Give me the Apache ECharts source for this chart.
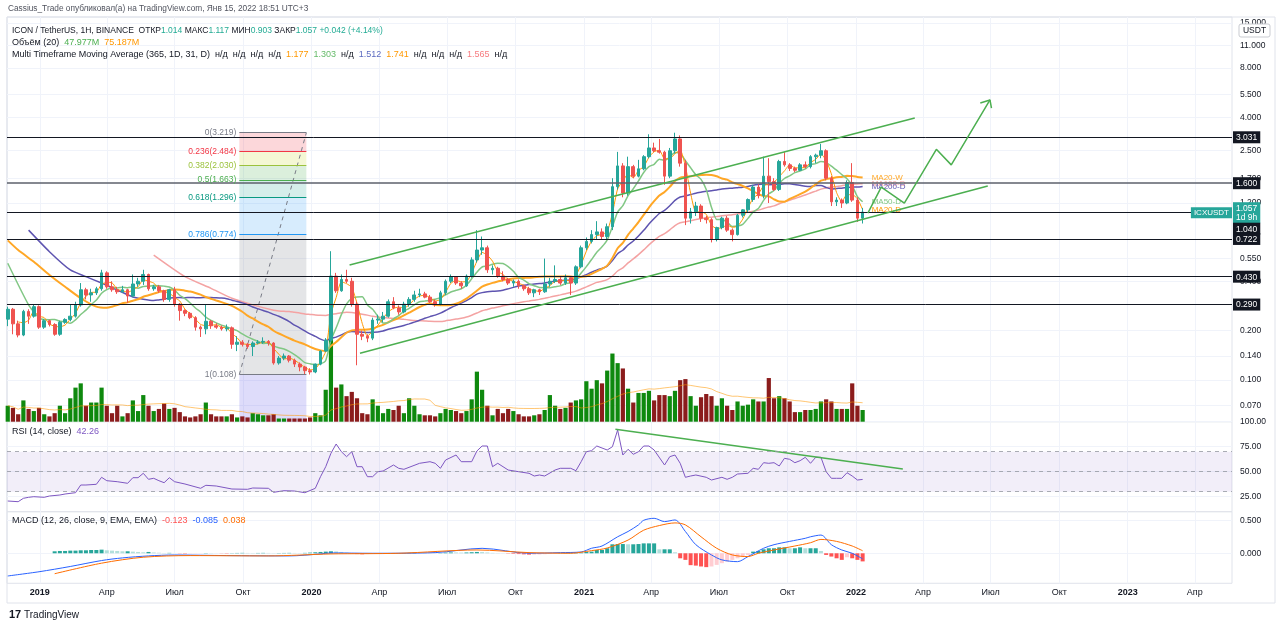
<!DOCTYPE html>
<html><head><meta charset="utf-8">
<style>html,body{margin:0;padding:0;background:#fff}#c{width:1280px;height:628px}</style>
<script src="https://cdn.jsdelivr.net/npm/echarts@6.0.0/dist/echarts.min.js"></script>
</head><body><div id="c"></div><script>
// ---------- DATA (weekly candles, first week Monday 2018-11-19) ----------
const firstWeek = '2018-11-19';
const open = [.235,.27,.22,.188,.262,.245,.28,.21,.23,.218,
.19,.225,.234,.245,.287,.355,.33,.34,.36,.45,
.37,.355,.345,.355,.325,.385,.40,.44,.36,.37,
.35,.31,.355,.29,.265,.255,.24,.21,.205,.228,
.214,.21,.205,.208,.165,.17,.165,.16,.168,.17,
.172,.168,.127,.136,.14,.132,.125,.12,.114,.112,
.125,.15,.175,.43,.35,.41,.40,.29,.19,.185,
.18,.232,.235,.245,.30,.275,.26,.29,.31,.33,
.335,.32,.30,.29,.34,.40,.425,.39,.375,.43,
.54,.62,.64,.47,.48,.43,.41,.39,.40,.375,
.36,.34,.355,.345,.385,.40,.41,.39,.42,.39,
.49,.64,.70,.77,.80,.75,.86,1.51,2.02,1.38,
2.00,1.75,1.94,2.30,2.60,2.50,2.45,1.75,2.50,2.95,
2.10,.97,1.06,1.15,.97,.95,.72,.85,.97,.82,
.77,1.01,1.09,1.26,1.50,1.33,1.75,1.62,1.45,2.15,
2.05,1.95,1.90,2.05,2.00,2.30,2.35,2.50,1.70,1.22,
1.25,1.20,1.60,1.25,.97];
const high = [.28,.275,.23,.268,.27,.29,.285,.235,.233,.222,
.23,.238,.29,.30,.39,.365,.36,.37,.47,.46,
.40,.37,.375,.36,.44,.42,.47,.445,.38,.38,
.355,.36,.37,.295,.27,.26,.245,.215,.29,.232,
.222,.215,.218,.212,.185,.175,.168,.172,.175,.182,
.175,.17,.14,.145,.142,.135,.128,.122,.118,.126,
.152,.18,.61,.45,.44,.47,.42,.30,.20,.19,
.24,.25,.26,.31,.32,.285,.30,.32,.35,.36,
.345,.33,.31,.35,.41,.44,.43,.40,.44,.56,
.82,.75,.66,.50,.49,.46,.42,.41,.41,.38,
.37,.36,.36,.55,.42,.50,.43,.44,.43,.50,
.66,.74,.82,.93,.84,.90,1.70,2.46,2.10,2.30,
2.05,2.20,2.35,3.15,2.80,2.95,2.50,2.60,3.22,3.10,
2.20,1.12,1.22,1.18,1.00,.97,.86,.99,1.00,.84,
1.03,1.10,1.28,1.55,1.56,2.30,2.25,1.70,2.20,2.45,
2.10,2.00,2.10,2.15,2.35,2.40,2.75,2.55,1.75,1.30,
1.28,1.65,2.10,1.30,1.12];
const low = [.213,.19,.182,.185,.22,.24,.205,.205,.212,.186,
.186,.22,.228,.24,.28,.31,.30,.33,.35,.36,
.345,.335,.34,.295,.32,.37,.38,.35,.35,.34,
.30,.30,.28,.23,.245,.235,.20,.183,.19,.205,
.205,.20,.198,.155,.15,.16,.155,.14,.165,.166,
.162,.124,.124,.132,.128,.12,.113,.108,.108,.11,
.123,.148,.17,.34,.345,.39,.28,.123,.175,.17,
.175,.22,.225,.24,.27,.25,.255,.28,.30,.32,
.315,.295,.28,.285,.33,.39,.38,.36,.37,.42,
.52,.58,.45,.44,.42,.40,.38,.37,.36,.35,
.33,.32,.33,.34,.37,.39,.38,.38,.33,.38,
.48,.62,.68,.72,.72,.72,.82,1.45,1.30,1.33,
1.70,1.72,1.90,2.25,2.45,2.40,1.55,1.70,2.40,2.00,
.88,.90,1.00,.92,.90,.69,.70,.83,.80,.70,
.76,.98,1.05,1.22,1.28,1.28,1.20,1.42,1.42,2.00,
1.88,1.85,1.88,1.95,1.95,2.10,2.25,1.65,1.15,1.15,
1.12,1.18,1.22,.92,.90];
const close = [.27,.22,.188,.262,.245,.28,.21,.23,.218,.19,
.225,.234,.245,.287,.355,.33,.34,.36,.45,.37,
.355,.345,.355,.325,.385,.40,.44,.36,.37,.35,
.31,.355,.29,.265,.255,.24,.21,.205,.228,.214,
.21,.205,.208,.165,.17,.165,.16,.168,.17,.172,
.168,.127,.136,.14,.132,.125,.12,.114,.112,.125,
.15,.175,.43,.35,.41,.40,.29,.19,.185,.18,
.232,.235,.245,.30,.275,.26,.29,.31,.33,.335,
.32,.30,.29,.34,.40,.425,.39,.375,.43,.54,
.62,.64,.47,.48,.43,.41,.39,.40,.375,.36,
.34,.355,.345,.385,.40,.41,.39,.42,.39,.49,
.64,.70,.77,.80,.75,.86,1.51,2.02,1.38,2.00,
1.75,1.94,2.30,2.60,2.50,2.45,1.75,2.50,2.95,2.10,
.97,1.06,1.15,.97,.95,.72,.85,.97,.82,.77,
1.01,1.09,1.26,1.50,1.33,1.75,1.62,1.45,2.15,2.05,
1.95,1.90,2.05,2.00,2.30,2.35,2.50,1.70,1.22,1.25,
1.20,1.60,1.25,.97,1.057];
const volume = [15,13,7,20,12,10,13,7,5,8,
15,8,22,32,36,15,18,18,32,15,
8,15,5,8,20,10,25,15,10,12,
17,12,13,9,5,4,5,7,18,7,
5,5,5,7,4,5,4,8,7,6,
6,7,3,3,3,3,3,3,4,8,
6,30,100,32,35,24,28,22,8,7,
21,15,8,12,11,15,8,22,15,7,
6,6,5,8,12,11,10,8,10,21,
47,30,15,6,12,8,12,10,7,5,
5,6,7,11,25,15,12,13,18,20,
21,38,31,39,36,48,64,55,50,31,
18,27,27,29,20,25,25,24,29,39,
40,24,15,23,26,24,15,22,15,11,
19,15,16,21,19,19,41,22,24,22,
19,9,9,11,11,12,19,21,19,12,
12,12,36,15,11];
const macdHist = [null,null,null,null,null,null,null,null,null,.03,
.035,.035,.04,.04,.045,.045,.05,.05,.055,.045,
.04,.035,.03,.03,.025,.02,.015,.02,.012,.008,
.004,.006,.002,-.003,-.005,-.004,-.003,-.002,.004,.003,
.001,-.002,-.004,.003,.005,.006,.005,.004,.005,.006,
.005,.003,.004,.005,.006,.005,.004,.006,.01,.015,
.02,.025,.03,.028,.02,.01,-.005,-.012,-.015,-.012,
-.008,-.006,-.004,.003,.004,.003,.004,.006,.008,.007,
.005,.003,.002,.004,.01,.013,.012,.01,.012,.016,
.02,.018,.012,.006,.003,.001,-.004,-.008,-.012,-.016,
-.02,-.02,-.018,-.014,-.01,-.004,.003,.006,.008,.01,
.01,.02,.025,.05,.05,.076,.136,.14,.14,.136,
.136,.14,.15,.15,.15,.06,.06,.06,.015,-.076,
-.1,-.18,-.187,-.2,-.21,-.2,-.176,-.15,-.126,-.1,
-.076,-.05,-.025,.025,.035,.06,.076,.076,.09,.09,
.076,.076,.09,.076,.076,.076,.035,-.025,-.05,-.076,
-.1,-.06,-.076,-.1,-.123];
const rsiWeek = [0,2,3,4,5,7,8,10,11,13,14,15,17,18,19,21,23,24,25,26,27,28,29,30,31,32,34,37,38,40,43,46,47,50,51,53,55,57,59,60,61,62,63,64,65,66,67,68,69,70,71,72,74,75,76,79,81,82,83,84,86,87,89,90,91,92,93,94,96,98,100,101,102,103,105,106,108,109,110,111,112,113,115,116,117,118,119,120,121,122,123,124,126,127,128,129,130,131,132,134,135,137,138,139,140,142,143,144,145,146,147,148,149,150,151,152,153,154,155,156,157,158,159,160,161,162,163,164];
const rsiValue = [20.7,20,23.4,24.4,25,24.4,25.7,26.7,27.7,29,36.7,36.7,37.4,44.4,41,40,38.4,44,44,48.4,42.4,43.4,41,39,44,40,37.7,33.4,36.4,35.7,32.7,32.4,33.7,33.4,29.4,31,30.7,29,33.4,45,55,68.4,77.7,70,65,70,55,55,45,45,50,50.7,56.7,53.4,52.4,58.4,60,58.4,53.4,61.7,66.7,60,60,70.7,75.7,75.7,55,58.4,51.7,50,48.4,45.7,46.7,45.7,51.7,53.4,53.4,51,60,70,71,75.7,71.7,75,91.7,66.7,72.4,67.4,70,75.7,75.7,71.7,56.7,65,66.7,58.4,44.4,45.7,46.7,44.4,41.7,44.4,42.4,44.4,47.7,48.4,53.4,52.4,59,58.4,59,55.7,63.4,62.4,59,61,64.4,58.4,64.4,64.4,50,43.4,43.4,43.4,49,45.7,41.7,42.26];
const macdWeek = [0,6,12,18,22,27,32,42,54,60,62,70,82,91,100,106,110,112,114,117,119,121,122,124,126,128,130,132,135,137,140,142,145,147,150,153,154,156,158,160,162,164];
const macdValue = [-0.344,-0.28,-0.2,-0.11,-0.07,-0.04,-0.026,-0.035,-0.04,-0.01,0.005,0,0.01,0.075,0,0.01,0.02,0.076,0.11,0.25,0.33,0.43,0.5,0.53,0.48,0.505,0.33,0.13,-0.025,-0.1,-0.127,-0.05,0.076,0.13,0.18,0.227,0.25,0.276,0.13,0.05,0,-0.085];
const signalWeek = [9,18,26,35,50,62,75,90,100,108,112,115,119,122,125,128,130,133,136,139,142,144,147,151,154,156,159,162,164];
const signalValue = [-0.31,-0.15,-0.06,-0.035,-0.04,-0.01,0,0.05,0.01,0,0.04,0.08,0.2,0.35,0.42,0.46,0.43,0.25,0.076,-0.025,-0.05,0,0.05,0.11,0.16,0.21,0.18,0.11,0.038];
const ma20wEarlyWeek = [0,2,5,8,11,14,17];
const ma20wEarlyValue = [0.71,0.62,0.526,0.437,0.37,0.315,0.28];
const ma200dEarlyWeek = [4,8,12,15,18,21,24];
const ma200dEarlyValue = [0.82,0.606,0.469,0.427,0.39,0.354,0.321];
const ma365dEarlyWeek = [28,34,39,43,47];
const ma365dEarlyValue = [0.578,0.427,0.362,0.315,0.287];
const ma50dEarlyWeek = [0,4];
const ma50dEarlyValue = [0.515,0.287];
const levels = [3.031, 1.600, 1.040, 0.722, 0.430, 0.290];
const lastPrice = 1.057;
const priceTicks = [15, 11, 8, 5.5, 4, 2.5, 1.7, 1.2, 0.55, 0.4, 0.2, 0.14, 0.1, 0.07];
const rsiTicks = [25, 50, 75, 100];
const macdTicks = [0, 0.5];
const timeTicks = ['2019-01-01','2019-04-01','2019-07-01','2019-10-01','2020-01-01','2020-04-01','2020-07-01','2020-10-01','2021-01-01','2021-04-01','2021-07-01','2021-10-01','2022-01-01','2022-04-01','2022-07-01','2022-10-01','2023-01-01','2023-04-01'];
const timeTickLabels = ['2019','Апр','Июл','Окт','2020','Апр','Июл','Окт','2021','Апр','Июл','Окт','2022','Апр','Июл','Окт','2023','Апр'];
const fibRatios = ['0','0.236','0.382','0.5','0.618','0.786','1'];
const fibPrices = [3.219, 2.484, 2.030, 1.663, 1.296, 0.774, 0.108];
const fibSpan = ['2019-09-26','2019-12-25'];
const channelUpper = [['2020-02-21',0.502],['2022-03-21',3.96]];
const channelLower = [['2020-03-06',0.1455],['2022-06-27',1.523]];
const projection = [['2022-01-17',1.04],['2022-02-04',1.5],['2022-03-07',1.2],['2022-04-19',2.55],['2022-05-09',2.05],['2022-06-30',5.10]];
const arrowHead = [['2022-06-17',4.89],['2022-06-30',5.10],['2022-07-02',4.54]];
const rsiTrend = [['2021-02-12',92.4],['2022-03-05',52.7]];

// ---------- BUILD ----------
const DAY = 86400000;
const T0 = Date.parse(firstWeek);
const weekT = i => T0 + i * 7 * DAY;
const weeks = close.map((_, i) => weekT(i));
const L = v => Math.log10(v);
const X_MIN = Date.parse('2018-11-18'), X_MAX = Date.parse('2023-05-21');
const Y_MIN = -1.2543, Y_MAX = 1.2134;
const FONT = 'Liberation Sans';
const UP = '#26a69a', DOWN = '#ef5350';
const CLEAR = 'rgba(0,0,0,0)';

function sma(src, n) {
  return src.map((_, i) => {
    if (i < n - 1) return null;
    let sum = 0;
    for (let k = i - n + 1; k <= i; k++) sum += src[k];
    return sum / n;
  });
}
function smaPartial(src, n) {
  return src.map((_, i) => {
    const s = Math.max(0, i - n + 1); let sum = 0;
    for (let k = s; k <= i; k++) sum += src[k];
    return sum / (i - s + 1);
  });
}
const tickVals = timeTicks.map(s => Date.parse(s));
function xAxis(gi, showLabel) {
  return {
    type: 'value', gridIndex: gi, min: X_MIN, max: X_MAX, scale: true,
    axisLine: { show: false }, axisTick: { show: false, customValues: tickVals },
    splitLine: { show: true, lineStyle: { color: '#f0f3fa', width: 1 } },
    axisLabel: {
      show: showLabel, customValues: tickVals, margin: 5, color: '#131722', fontSize: 9, fontFamily: FONT,
      formatter: v => { let k = -1; tickVals.forEach((t, j) => { if (Math.abs(t - v) < DAY) k = j; }); const s = k >= 0 ? timeTickLabels[k] : ''; return /^\d{4}$/.test(s) ? '{y|' + s + '}' : s; },
      rich: { y: { fontWeight: 'bold', fontSize: 9, color: '#131722', fontFamily: FONT } }
    }
  };
}
const gridBase = { left: 7, right: 48, show: true, borderColor: '#e0e3eb', borderWidth: 1, backgroundColor: 'transparent' };

const maDefs = [
  { name: 'MA100-D', n: 52, color: '#f4a3a3', w: 1.5, ew: ma365dEarlyWeek, ev: ma365dEarlyValue },
  { name: 'MA200-D', n: 29, color: '#5e54b0', w: 1.5, ew: ma200dEarlyWeek, ev: ma200dEarlyValue },
  { name: 'MA20-W', n: 20, color: '#ffa726', w: 2, ew: ma20wEarlyWeek, ev: ma20wEarlyValue },
  { name: 'MA50-D', n: 7, color: '#81c784', w: 1.5, ew: ma50dEarlyWeek, ev: ma50dEarlyValue },
  { name: 'MA20-D', n: 3, color: '#ff9800', w: 1, ew: [], ev: [] }
];
const maSeries = maDefs.map(d => {
  const m = sma(close, d.n);
  const pts = d.ew.map((w, k) => [weekT(w), L(d.ev[k])]);
  weeks.forEach((t, i) => { if (m[i] != null) pts.push([t, L(m[i])]); });
  return {
    type: 'line', name: d.name, xAxisIndex: 0, yAxisIndex: 0, showSymbol: false, z: 3, silent: true,
    smooth: 0.2, data: pts,
    lineStyle: { color: d.color, width: d.w }, itemStyle: { color: d.color },
    endLabel: { show: true, formatter: d.name, color: d.color, fontSize: 8, distance: 9, fontFamily: FONT }
  };
});
const volMa = smaPartial(volume, 20);

const fibT0 = Date.parse(fibSpan[0]), fibT1 = Date.parse(fibSpan[1]);
const fibFills = ['rgba(242,54,69,0.2)', 'rgba(205,220,57,0.22)', 'rgba(76,175,80,0.2)', 'rgba(8,153,129,0.17)', 'rgba(33,150,243,0.18)', 'rgba(120,123,134,0.2)', 'rgba(92,80,230,0.2)'];
const fibColors = ['#787b86', '#f23645', '#9bc23c', '#4caf50', '#089981', '#2196f3', '#787b86'];

const boxRich = { b: { backgroundColor: '#131722', color: '#fff', padding: [2, 3, 1, 3], fontSize: 8.5, fontFamily: FONT }, g: { fontSize: 1, lineHeight: 10, height: 10 } };
const levelItems = [];
levelItems.push({
  yAxis: L(lastPrice), lineStyle: { color: CLEAR, width: 1 },
  label: { show: true, position: 'end', distance: 1, verticalAlign: 'middle',
    formatter: '{p|' + lastPrice.toFixed(3) + '}\n{p|1d 9h}',
    backgroundColor: UP, padding: [2, 3, 1, 3], fontFamily: FONT,
    rich: { p: { color: '#fff', fontSize: 8.5, lineHeight: 9, fontFamily: FONT } } }
});
levels.forEach((v, k) => levelItems.push({
  yAxis: L(v),
  lineStyle: { color: k === 1 ? '#5d606b' : '#131722', width: k === 1 ? 1.5 : 1, type: 'solid' },
  label: {
    show: true, position: 'end', distance: 1,
    verticalAlign: k === 2 ? 'top' : 'middle',
    formatter: (k === 2 ? '{g| }\n' : '') + '{b|' + v.toFixed(3) + '}', rich: boxRich
  }
}));
levelItems.push({
  yAxis: L(lastPrice), lineStyle: { color: CLEAR, width: 1 },
  label: { show: true, position: 'end', align: 'right', distance: 0, formatter: '{t|ICXUSDT}',
    backgroundColor: UP, padding: [2, 3, 1, 3], fontFamily: FONT,
    rich: { t: { color: '#fff', fontSize: 8, fontFamily: FONT } } }
});

function histColor(i) {
  const v = macdHist[i], p = i > 0 && macdHist[i - 1] != null ? macdHist[i - 1] : 0;
  if (v >= 0) return v >= p ? '#26a69a' : '#b2dfdb';
  return v < p ? '#ff5252' : '#ffcdd2';
}
const toPts = arr => arr.map(([d, p]) => [Date.parse(d), L(p)]);

const series = [
  { type: 'bar', xAxisIndex: 0, yAxisIndex: 1, barWidth: 4.2, z: 1, silent: true,
    data: weeks.map((t, i) => ({ value: [t, volume[i]], itemStyle: { color: close[i] >= open[i] ? '#0e890e' : '#8b1c1c' } })) },
  { type: 'line', xAxisIndex: 0, yAxisIndex: 1, showSymbol: false, z: 1, silent: true,
    data: weeks.map((t, i) => [t, volMa[i]]), lineStyle: { color: 'rgba(255,152,0,0.55)', width: 1 } },
  { type: 'line', xAxisIndex: 0, yAxisIndex: 0, showSymbol: false, z: 2, silent: true,
    data: [[fibT0, L(fibPrices[fibPrices.length - 1])], [fibT1, L(fibPrices[0])]],
    lineStyle: { color: '#787b86', width: 1, type: [4, 4] },
    markArea: { silent: true, data: fibPrices.map((p, k) => [
      { coord: [fibT0, L(p)], itemStyle: { color: fibFills[k] } },
      { coord: [fibT1, k < fibPrices.length - 1 ? L(fibPrices[k + 1]) : Y_MIN] }]) },
    markLine: { silent: true, symbol: ['none', 'none'], animation: false,
      label: { position: 'start', distance: 3, fontSize: 8.5, fontFamily: FONT },
      data: fibPrices.map((p, k) => [
        { coord: [fibT0, L(p)], lineStyle: { color: fibColors[k], width: 1, type: 'solid' },
          label: { formatter: fibRatios[k] + '(' + p.toFixed(3) + ')', color: fibColors[k] } },
        { coord: [fibT1, L(p)] }]) } },
  ...maSeries,
  { type: 'candlestick', xAxisIndex: 0, yAxisIndex: 0, z: 4, barWidth: 3.2, silent: true,
    data: weeks.map((t, i) => [t, L(open[i]), L(close[i]), L(low[i]), L(high[i])]),
    itemStyle: { color: UP, color0: DOWN, borderColor: UP, borderColor0: DOWN, borderWidth: 1 },
    markLine: { silent: true, symbol: ['none', 'none'], animation: false, data: levelItems } },
  { type: 'line', xAxisIndex: 0, yAxisIndex: 0, showSymbol: false, z: 5, silent: true, data: toPts(channelUpper), lineStyle: { color: '#4caf50', width: 1.5 } },
  { type: 'line', xAxisIndex: 0, yAxisIndex: 0, showSymbol: false, z: 5, silent: true, data: toPts(channelLower), lineStyle: { color: '#4caf50', width: 1.5 } },
  { type: 'line', xAxisIndex: 0, yAxisIndex: 0, showSymbol: false, z: 5, silent: true, data: toPts(projection), lineStyle: { color: '#4caf50', width: 1.5 } },
  { type: 'line', xAxisIndex: 0, yAxisIndex: 0, showSymbol: false, z: 5, silent: true, data: toPts(arrowHead), lineStyle: { color: '#4caf50', width: 1.5 } },
  // RSI
  { type: 'line', xAxisIndex: 1, yAxisIndex: 2, showSymbol: false, z: 3, silent: true,
    data: rsiWeek.map((w, k) => [weekT(w), rsiValue[k]]), lineStyle: { color: '#7e57c2', width: 1 },
    markArea: { silent: true, itemStyle: { color: 'rgba(126,87,194,0.1)' }, data: [[{ yAxis: 30 }, { yAxis: 70 }]] },
    markLine: { silent: true, symbol: ['none', 'none'], animation: false, label: { show: false },
      lineStyle: { color: '#9598a1', width: 1, type: [4, 4], opacity: 0.8 }, data: [{ yAxis: 70 }, { yAxis: 50 }, { yAxis: 30 }] } },
  { type: 'line', xAxisIndex: 1, yAxisIndex: 2, showSymbol: false, z: 4, silent: true,
    data: rsiTrend.map(([d, v]) => [Date.parse(d), v]), lineStyle: { color: '#4caf50', width: 1.5 } },
  // MACD
  { type: 'bar', xAxisIndex: 2, yAxisIndex: 3, barWidth: 4, z: 2, silent: true,
    data: weeks.map((t, i) => ({ value: [t, macdHist[i]], itemStyle: { color: macdHist[i] == null ? 'transparent' : histColor(i) } })) },
  { type: 'line', xAxisIndex: 2, yAxisIndex: 3, showSymbol: false, smooth: 0.3, z: 3, silent: true,
    data: macdWeek.map((w, k) => [weekT(w), macdValue[k]]), lineStyle: { color: '#2962ff', width: 1 } },
  { type: 'line', xAxisIndex: 2, yAxisIndex: 3, showSymbol: false, smooth: 0.3, z: 3, silent: true,
    data: signalWeek.map((w, k) => [weekT(w), signalValue[k]]), lineStyle: { color: '#ff6d00', width: 1 } }
];

const axisLabelBase = { color: '#131722', fontSize: 8.5, fontFamily: FONT, margin: 8 };
const txt = (c, s) => ({ fill: c, fontSize: s || 9, fontFamily: FONT });
const option = {
  animation: false,
  backgroundColor: '#fff',
  textStyle: { fontFamily: FONT },
  grid: [
    Object.assign({ top: 17, height: 404.7 }, gridBase),
    Object.assign({ top: 421.7, height: 90 }, gridBase),
    Object.assign({ top: 511.7, height: 71.6 }, gridBase)
  ],
  xAxis: [xAxis(0, false), xAxis(1, false), xAxis(2, true)],
  yAxis: [
    { type: 'value', gridIndex: 0, position: 'right', min: Y_MIN, max: Y_MAX,
      axisLine: { show: false }, axisTick: { show: false, customValues: priceTicks.map(L) },
      splitLine: { show: true, lineStyle: { color: '#f0f3fa' } },
      axisLabel: Object.assign({ customValues: priceTicks.map(L), formatter: v => Math.pow(10, v).toFixed(3) }, axisLabelBase) },
    { type: 'value', gridIndex: 0, show: false, min: 0, max: 380 },
    { type: 'value', gridIndex: 1, position: 'right', min: 10, max: 100,
      axisLine: { show: false }, axisTick: { show: false, customValues: rsiTicks },
      splitLine: { show: true, lineStyle: { color: '#f0f3fa' } },
      axisLabel: Object.assign({ customValues: rsiTicks, formatter: v => v.toFixed(2) }, axisLabelBase) },
    { type: 'value', gridIndex: 2, position: 'right', min: -0.455, max: 0.63,
      axisLine: { show: false }, axisTick: { show: false, customValues: macdTicks },
      splitLine: { show: true, lineStyle: { color: '#f0f3fa' } },
      axisLabel: Object.assign({ customValues: macdTicks, formatter: v => v.toFixed(3) }, axisLabelBase) }
  ],
  series: series,
  graphic: [
    { type: 'rect', silent: true, z: -10, shape: { x: 7, y: 17, width: 1268, height: 586 }, style: { fill: 'none', stroke: '#e0e3eb', lineWidth: 1 } },
    { type: 'text', x: 8, y: 9, z: 100, style: { text: 'Cassius_Trade опубликовал(а) на TradingView.com, Янв 15, 2022 18:51 UTC+3', fontSize: 8.3, fontFamily: FONT, fill: '#50535e', verticalAlign: 'middle' } },
    { type: 'text', x: 12, y: 31, z: 100, style: {
      text: '{d|ICON / TetherUS, 1H, BINANCE  ОТКР}{v|1.014}{d| МАКС}{v|1.117}{d| МИН}{v|0.903}{d| ЗАКР}{v|1.057}{v| +0.042 (+4.14%)}',
      verticalAlign: 'middle', fontSize: 8.5, fontFamily: FONT,
      rich: { d: txt('#131722', 8.5), v: txt('#22ab94', 8.5) } } },
    { type: 'text', x: 12, y: 43, z: 100, style: {
      text: '{d|Объём (20)  }{g|47.977M}{o|  75.187M}', verticalAlign: 'middle', fontSize: 9, fontFamily: FONT,
      rich: { d: txt('#131722'), g: txt('#4caf50'), o: txt('#ff9800') } } },
    { type: 'text', x: 12, y: 55, z: 100, style: {
      text: '{d|Multi Timeframe Moving Average (365, 1D, 31, D)  н/д  н/д  н/д  н/д  }{o|1.177}{d|  }{g|1.303}{d|  н/д  }{p|1.512}{d|  }{o|1.741}{d|  н/д  н/д  н/д  }{r|1.565}{d|  н/д}',
      verticalAlign: 'middle', fontSize: 9, fontFamily: FONT,
      rich: { d: txt('#131722'), o: txt('#ff9800'), g: txt('#66bb6a'), p: txt('#5c6bc0'), r: txt('#f77c80') } } },
    { type: 'text', x: 12, y: 432, z: 100, style: {
      text: '{d|RSI (14, close)  }{p|42.26}', verticalAlign: 'middle', fontSize: 9, fontFamily: FONT,
      rich: { d: txt('#131722'), p: txt('#7e57c2') } } },
    { type: 'text', x: 12, y: 521, z: 100, style: {
      text: '{d|MACD (12, 26, close, 9, EMA, EMA)  }{r|-0.123}{d|  }{b|-0.085}{d|  }{o|0.038}', verticalAlign: 'middle', fontSize: 9, fontFamily: FONT,
      rich: { d: txt('#131722'), r: txt('#ff5252'), b: txt('#2962ff'), o: txt('#ff6d00') } } },
    { type: 'rect', z: 100, shape: { x: 1239, y: 24, width: 31, height: 13, r: 2 }, style: { fill: '#fff', stroke: '#c9cbd1', lineWidth: 1 } },
    { type: 'text', x: 1254.5, y: 30.5, z: 101, style: { text: 'USDT', fontSize: 8.5, fontFamily: FONT, fill: '#131722', align: 'center', verticalAlign: 'middle' } },
    { type: 'text', x: 9, y: 615, z: 100, style: { text: '17', fontSize: 11, fontWeight: 'bold', fontFamily: FONT, fill: '#131722', verticalAlign: 'middle' } },
    { type: 'text', x: 24, y: 615, z: 100, style: { text: 'TradingView', fontSize: 10, fontFamily: FONT, fill: '#131722', verticalAlign: 'middle' } }
  ]
};
const chart = echarts.init(document.getElementById('c'), null, { renderer: 'canvas' });
chart.setOption(option);
</script></body></html>
